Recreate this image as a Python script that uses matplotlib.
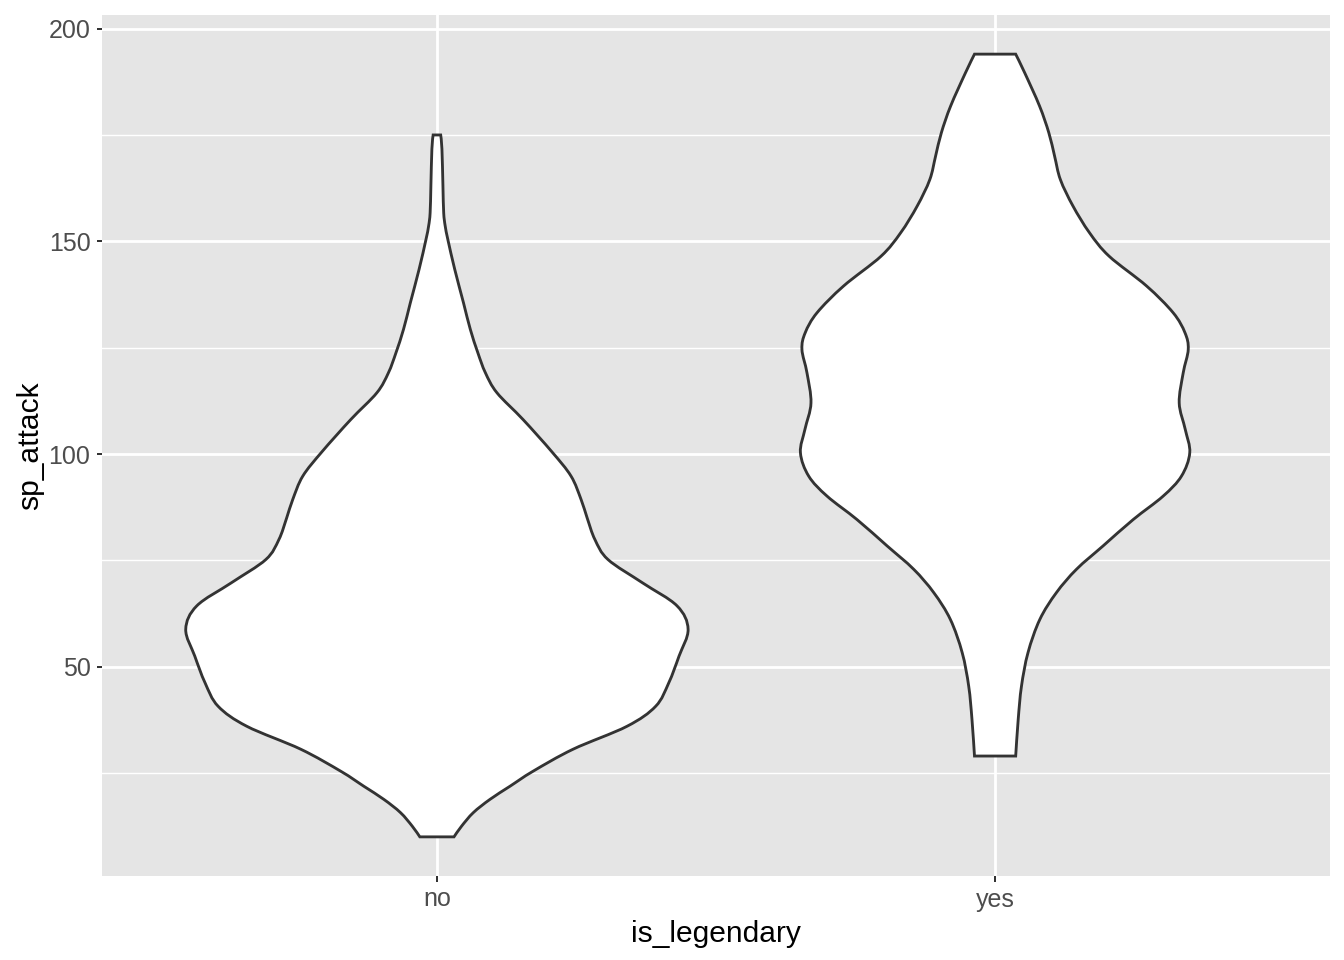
"""
Violin plot of sp_attack by is_legendary, drawn in the ggplot2 grey theme.
"""

import matplotlib.pyplot as plt
from matplotlib.path import Path
from matplotlib.patches import PathPatch
import numpy

# categories on the x axis
categories = ["no", "yes"]

# outline of each violin: sp_attack values and scaled density (1 = widest)
no_values = [10, 12.5, 15.7, 18.8, 21.9, 25.4, 30.6, 36.0, 40.7, 46.2, 52.5,
             58.8, 64.3, 69.7, 75.2, 79.9, 85, 89.3, 94.8, 100.5, 108.1,
             114.4, 119.1, 123.8, 129.3, 135.5, 143.4, 150.3, 153.6, 156.7,
             163, 171.7, 175]
no_density = [0.068, 0.098, 0.145, 0.211, 0.291, 0.382, 0.542, 0.757, 0.871,
              0.923, 0.964, 1.0, 0.956, 0.819, 0.681, 0.629, 0.598, 0.574,
              0.534, 0.458, 0.343, 0.239, 0.193, 0.163, 0.133, 0.106, 0.071,
              0.044, 0.033, 0.027, 0.024, 0.020, 0.015]

yes_values = [29, 37.6, 45.4, 53.3, 61.1, 67.4, 72.9, 78.4, 84.6, 90.1, 94.8,
              100.3, 105.8, 112, 119.1, 124.6, 128.5, 133.2, 139.5, 146.5,
              152, 158.3, 164.5, 170, 175.5, 181.8, 189.6, 194]
yes_density = [0.082, 0.092, 0.105, 0.131, 0.178, 0.244, 0.324, 0.430, 0.550,
               0.669, 0.742, 0.775, 0.757, 0.733, 0.749, 0.769, 0.756, 0.709,
               0.603, 0.454, 0.376, 0.310, 0.260, 0.237, 0.214, 0.177, 0.118,
               0.082]

y_ticks = [50, 100, 150, 200]
y_minor = [25, 75, 125, 175]

half_width = 0.45  # ggplot width=0.9
line_color = "#333333"


def smooth_side(xs, ys):
    # Catmull-Rom through the read points, as cubic bezier segments
    pts = numpy.column_stack([xs, ys])
    ext = numpy.vstack([pts[0], pts, pts[-1]])
    verts = []
    for i in range(1, len(ext) - 2):
        p0, p1, p2, p3 = ext[i - 1], ext[i], ext[i + 1], ext[i + 2]
        verts += [p1 + (p2 - p0) / 6, p2 - (p3 - p1) / 6, p2]
    return verts


def violin(ax, center, values, density):
    w = numpy.array(density) * half_width
    y = numpy.array(values, dtype=float)
    left = smooth_side(center - w, y)
    right = smooth_side((center + w)[::-1], y[::-1])
    verts = [(center - w[0], y[0])] + left + [(center + w[-1], y[-1])] \
        + right + [(center - w[0], y[0])]
    codes = [Path.MOVETO] + [Path.CURVE4] * len(left) + [Path.LINETO] \
        + [Path.CURVE4] * len(right) + [Path.CLOSEPOLY]
    patch = PathPatch(Path(verts, codes), facecolor="white",
                      edgecolor=line_color, linewidth=1.42, zorder=3,
                      joinstyle="miter")
    ax.add_patch(patch)


plt.rcParams["font.family"] = ["Liberation Sans", "DejaVu Sans"]

fig = plt.figure(figsize=(1344 / 144, 960 / 144), dpi=144)
ax = fig.add_axes([102 / 1344, 84 / 960, 1228 / 1344, 861 / 960])
ax.set_facecolor("#E5E5E5")

violin(ax, 1, no_values, no_density)
violin(ax, 2, yes_values, yes_density)

ax.set_xlim(0.4, 2.6)
ax.set_ylim(0.8, 203.2)
ax.set_xticks([1, 2])
ax.set_xticklabels(categories)
ax.set_yticks(y_ticks)
ax.set_yticks(y_minor, minor=True)

ax.grid(which="major", color="white", linewidth=1.42, zorder=0)
ax.grid(which="minor", axis="y", color="white", linewidth=0.71, zorder=0)
ax.set_axisbelow(True)
for spine in ax.spines.values():
    spine.set_visible(False)

ax.tick_params(axis="both", which="major", length=2.75, width=1.0,
               color=line_color, labelcolor="#4D4D4D", labelsize=12.5, pad=3)
ax.tick_params(axis="y", which="minor", length=0)

ax.set_xlabel("is_legendary", fontsize=15, color="black", labelpad=4)
ax.set_ylabel("sp_attack", fontsize=15, color="black", labelpad=2)

fig.savefig("out.png", dpi=144)
